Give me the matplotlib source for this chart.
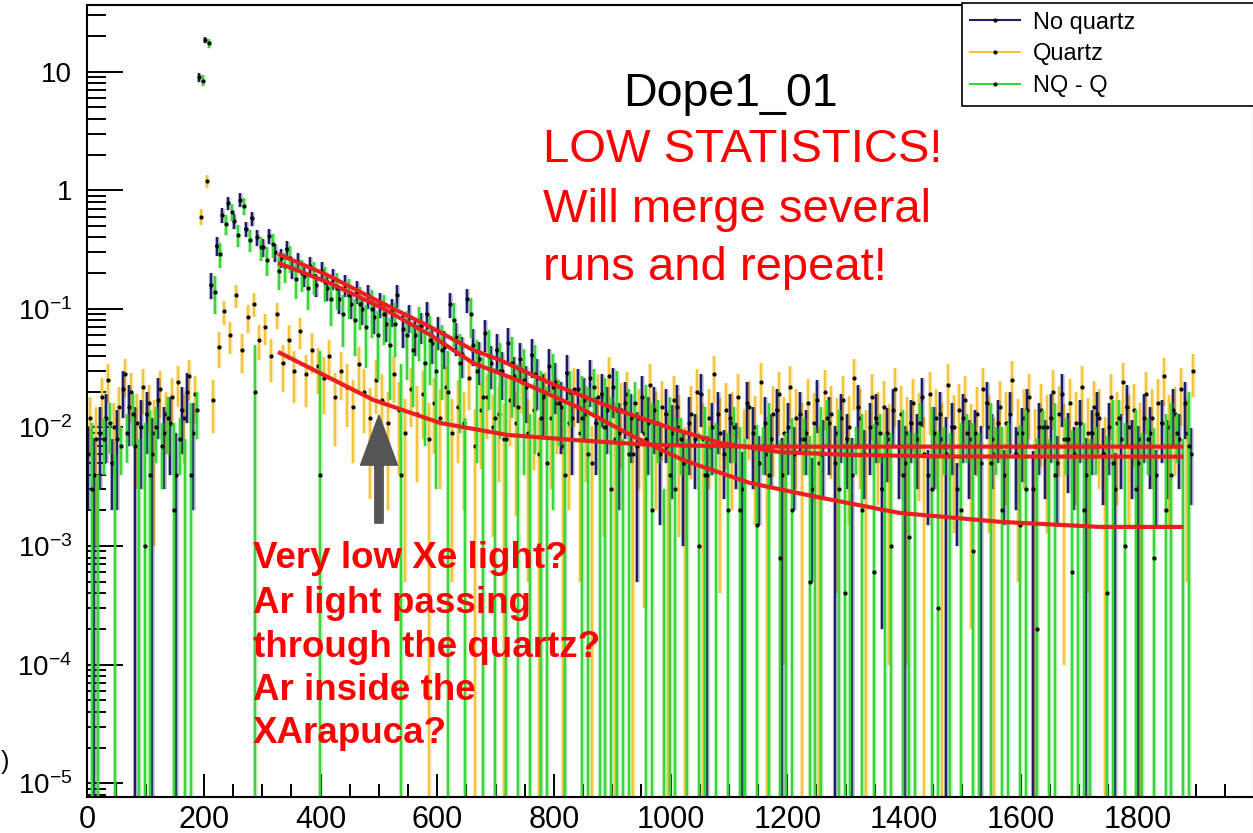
import numpy as np
import matplotlib
matplotlib.use("Agg")
import matplotlib.pyplot as plt
from matplotlib.lines import Line2D
from matplotlib.ticker import (FixedLocator, FixedFormatter, MultipleLocator,
                               LogLocator, NullFormatter)

plt.rcParams["font.family"] = ["Liberation Sans", "DejaVu Sans"]
plt.rcParams["mathtext.default"] = "regular"

# ---------------------------------------------------------------- data
BIN_WIDTH = 10                      # ns per bin
N_BINS = 190
bin_centres = BIN_WIDTH * np.arange(N_BINS) + BIN_WIDTH / 2

no_quartz = [
    0.006, 0.004, 0.009, 0.012, 0.005, 0.008, 0.021, 0.015, 0.007, 0.010,
    0.013, 0.006, 0.017, 0.009, 0.011, 0.004, 0.014, 0.020, 0.009, 9.0,
    18.5, 0.16, 0.34, 0.62, 0.78, 0.55, 0.83, 0.47, 0.58, 0.40,
    0.33, 0.41, 0.30, 0.27, 0.32, 0.22, 0.25, 0.19, 0.23, 0.16,
    0.21, 0.15, 0.18, 0.12, 0.16, 0.11, 0.14, 0.10, 0.13, 0.085,
    0.11, 0.075, 0.095, 0.13, 0.068, 0.085, 0.060, 0.072, 0.090, 0.052,
    0.065, 0.048, 0.11, 0.058, 0.042, 0.12, 0.050, 0.038, 0.062, 0.035,
    0.045, 0.030, 0.052, 0.027, 0.038, 0.022, 0.041, 0.026, 0.018, 0.033,
    0.024, 0.015, 0.029, 0.012, 0.021, 0.017, 0.026, 0.011, 0.019, 0.014,
    0.022, 0.009, 0.016, 0.012, 0.007, 0.018, 0.011, 0.014, 0.006, 0.013,
    0.009, 0.015, 0.005, 0.011, 0.008, 0.019, 0.004, 0.010, 0.013, 0.006,
    0.012, 0.007, 0.003, 0.016, 0.009, 0.005, 0.011, 0.008, 0.014, 0.004,
    0.010, 0.006, 0.013, 0.009, 0.003, 0.017, 0.007, 0.011, 0.005, 0.012,
    0.008, 0.004, 0.015, 0.006, 0.010, 0.012, 0.003, 0.009, 0.014, 0.007,
    0.005, 0.011, 0.008, 0.018, 0.004, 0.009, 0.013, 0.006, 0.010, 0.003,
    0.012, 0.007, 0.009, 0.005, 0.016, 0.008, 0.011, 0.004, 0.013, 0.006,
    0.009, 0.014, 0.003, 0.010, 0.007, 0.012, 0.005, 0.019, 0.008, 0.006,
    0.011, 0.004, 0.009, 0.013, 0.006, 0.010, 0.003, 0.008, 0.015, 0.007,
    0.005, 0.012, 0.009, 0.004, 0.011, 0.007, 0.014, 0.008, 0.016, 0.006,
]
no_quartz_err = [
    0.004, 0.004, 0.006, 0.007, 0.003, 0.006, 0.009, 0.008, 0.008, 0.007,
    0.007, 0.006, 0.009, 0.006, 0.007, 0.005, 0.008, 0.009, 0.007, 0.8,
    1.2, 0.04, 0.06, 0.09, 0.10, 0.08, 0.11, 0.07, 0.08, 0.06,
    0.055, 0.06, 0.05, 0.048, 0.052, 0.042, 0.045, 0.038, 0.042, 0.035,
    0.04, 0.034, 0.037, 0.03, 0.034, 0.028, 0.031, 0.027, 0.03, 0.024,
    0.027, 0.022, 0.025, 0.029, 0.021, 0.023, 0.02, 0.021, 0.024, 0.018,
    0.02, 0.017, 0.026, 0.018, 0.016, 0.027, 0.017, 0.015, 0.019, 0.014,
    0.016, 0.013, 0.017, 0.012, 0.014, 0.011, 0.015, 0.012, 0.01, 0.013,
    0.011, 0.009, 0.012, 0.008, 0.01, 0.009, 0.011, 0.007, 0.009, 0.008,
    0.01, 0.007, 0.008, 0.007, 0.0065, 0.009, 0.007, 0.008, 0.0045, 0.008,
    0.0065, 0.008, 0.004, 0.007, 0.005, 0.009, 0.0045, 0.006, 0.007, 0.0035,
    0.007, 0.004, 0.0032, 0.008, 0.006, 0.0035, 0.007, 0.005, 0.007, 0.0042,
    0.006, 0.004, 0.007, 0.005, 0.0025, 0.008, 0.0045, 0.007, 0.0052, 0.007,
    0.005, 0.0042, 0.008, 0.0035, 0.006, 0.007, 0.0028, 0.0055, 0.007, 0.0045,
    0.0052, 0.006, 0.005, 0.008, 0.0025, 0.006, 0.007, 0.0062, 0.006, 0.002,
    0.007, 0.0045, 0.005, 0.0053, 0.008, 0.005, 0.006, 0.0025, 0.007, 0.004,
    0.0055, 0.007, 0.0033, 0.006, 0.0045, 0.007, 0.0035, 0.009, 0.0052, 0.004,
    0.006, 0.0042, 0.005, 0.007, 0.0038, 0.006, 0.0031, 0.005, 0.008, 0.0045,
    0.0052, 0.007, 0.006, 0.0025, 0.006, 0.0045, 0.007, 0.005, 0.008, 0.0038,
]

quartz = [
    0.012, 0.008, 0.018, 0.025, 0.010, 0.015, 0.028, 0.020, 0.011, 0.022,
    0.016, 0.009, 0.021, 0.013, 0.018, 0.024, 0.012, 0.027, 0.019, 0.6,
    1.2, 0.017, 0.048, 0.095, 0.060, 0.13, 0.045, 0.085, 0.11, 0.055,
    0.07, 0.04, 0.09, 0.035, 0.055, 0.03, 0.065, 0.028, 0.045, 0.033,
    0.026, 0.04, 0.018, 0.03, 0.022, 0.015, 0.034, 0.02, 0.012, 0.025,
    0.017, 0.011, 0.028, 0.014, 0.009, 0.021, 0.013, 0.019, 0.008, 0.016,
    0.012, 0.022, 0.009, 0.015, 0.011, 0.026, 0.007, 0.014, 0.018, 0.010,
    0.013, 0.008, 0.017, 0.011, 0.024, 0.009, 0.014, 0.006, 0.019, 0.012,
    0.016, 0.007, 0.011, 0.021, 0.009, 0.013, 0.005, 0.018, 0.010, 0.027,
    0.008, 0.014, 0.019, 0.006, 0.012, 0.009, 0.023, 0.011, 0.015, 0.007,
    0.017, 0.010, 0.005, 0.013, 0.020, 0.008, 0.012, 0.028, 0.009, 0.014,
    0.011, 0.018, 0.007, 0.015, 0.010, 0.024, 0.006, 0.013, 0.019, 0.009,
    0.022, 0.012, 0.008, 0.016, 0.011, 0.005, 0.020, 0.013, 0.009, 0.017,
    0.010, 0.026, 0.012, 0.007, 0.018, 0.011, 0.015, 0.008, 0.021, 0.013,
    0.009, 0.016, 0.011, 0.006, 0.019, 0.012, 0.008, 0.023, 0.010, 0.014,
    0.017, 0.008, 0.013, 0.021, 0.010, 0.006, 0.015, 0.011, 0.025, 0.009,
    0.012, 0.018, 0.007, 0.014, 0.010, 0.020, 0.013, 0.008, 0.016, 0.011,
    0.022, 0.009, 0.015, 0.012, 0.006, 0.018, 0.011, 0.024, 0.010, 0.014,
    0.008, 0.019, 0.012, 0.016, 0.027, 0.010, 0.013, 0.021, 0.009, 0.030,
]
quartz_err = [
    0.006, 0.007, 0.008, 0.009, 0.006, 0.007, 0.010, 0.009, 0.008, 0.009,
    0.007, 0.008, 0.009, 0.007, 0.008, 0.009, 0.007, 0.010, 0.008, 0.09,
    0.15, 0.008, 0.016, 0.022, 0.018, 0.028, 0.016, 0.022, 0.025, 0.018,
    0.02, 0.016, 0.022, 0.015, 0.018, 0.014, 0.019, 0.013, 0.017, 0.014,
    0.013, 0.015, 0.011, 0.013, 0.012, 0.01, 0.014, 0.011, 0.0095, 0.012,
    0.011, 0.009, 0.012, 0.01, 0.0085, 0.011, 0.0095, 0.011, 0.008, 0.01,
    0.009, 0.011, 0.0085, 0.01, 0.009, 0.012, 0.0072, 0.0095, 0.01, 0.0088,
    0.0095, 0.008, 0.01, 0.0092, 0.011, 0.0085, 0.0096, 0.0061, 0.0105, 0.009,
    0.01, 0.0072, 0.009, 0.011, 0.0085, 0.0095, 0.0052, 0.01, 0.0088, 0.012,
    0.008, 0.0095, 0.0105, 0.0062, 0.009, 0.0087, 0.011, 0.009, 0.0098, 0.0071,
    0.01, 0.0088, 0.0051, 0.0093, 0.011, 0.008, 0.009, 0.012, 0.0086, 0.0095,
    0.009, 0.01, 0.0072, 0.0097, 0.0085, 0.011, 0.0062, 0.0092, 0.0105, 0.0089,
    0.011, 0.009, 0.0081, 0.0098, 0.0087, 0.0052, 0.0105, 0.0093, 0.0086, 0.01,
    0.0085, 0.012, 0.009, 0.0071, 0.0102, 0.0088, 0.0096, 0.0079, 0.011, 0.0092,
    0.0089, 0.0098, 0.0086, 0.0062, 0.0104, 0.009, 0.0081, 0.011, 0.0087, 0.0094,
    0.0099, 0.0078, 0.0091, 0.011, 0.0087, 0.0061, 0.0096, 0.0088, 0.0115, 0.0085,
    0.009, 0.01, 0.0072, 0.0094, 0.0087, 0.0105, 0.0092, 0.0079, 0.0098, 0.0088,
    0.011, 0.0086, 0.0095, 0.009, 0.0062, 0.0101, 0.0088, 0.0112, 0.0086, 0.0094,
    0.008, 0.0102, 0.009, 0.0097, 0.0118, 0.0086, 0.0091, 0.0108, 0.0085, 0.012,
]

nq_minus_q = [
    0.003, -0.002, 0.008, 0.011, -0.003, 0.007, 0.009, 0.013, -0.001, 0.001,
    0.004, 0.010, 0.007, 0.012, 0.002, 0.008, -0.002, 0.004, 0.014, 8.4,
    17.3, 0.14, 0.29, 0.52, 0.66, 0.42, 0.74, 0.38, 0.02, 0.33,
    0.26, 0.35, 0.21, 0.23, 0.27, 0.18, 0.20, 0.15, 0.19, 0.004,
    0.17, 0.12, 0.15, 0.09, 0.13, 0.08, 0.11, 0.07, 0.10, 0.06,
    0.09, 0.05, 0.075, 0.004, 0.06, 0.045, 0.07, 0.035, 0.055, 0.03,
    0.045, 0.02, 0.08, 0.035, -0.01, 0.09, 0.03, 0.018, 0.04, 0.012,
    0.03, 0.008, 0.035, 0.015, 0.025, -0.004, 0.028, 0.012, 0.005, 0.022,
    0.016, 0.004, 0.02, -0.012, 0.012, 0.006, 0.022, -0.002, 0.010, 0.003,
    0.014, -0.005, 0.006, 0.016, -0.012, 0.008, 0.002, 0.011, -0.009, 0.004,
    0.003, 0.008, -0.002, -0.012, 0.001, 0.004, 0.007, -0.001, -0.010, 0.002,
    0.010, 0.002, -0.003, -0.011, 0.0015, 0.007, 0.004, -0.009, 0.0008, -0.001,
    0.002, -0.010, 0.008, 0.0005, -0.002, 0.006, 0.012, -0.012, 0.003, 0.0004,
    -0.001, 0.007, 0.002, -0.010, 0.0006, 0.009, -0.003, 0.001, -0.011, 0.004,
    0.0012, -0.002, 0.011, -0.009, 0.003, 0.0003, 0.007, -0.001, -0.012, 0.002,
    0.009, 0.0009, -0.002, -0.010, 0.005, 0.007, 0.002, -0.001, -0.009, 0.0015,
    0.003, -0.011, 0.0002, 0.010, -0.002, 0.004, -0.010, 0.008, 0.0006, -0.001,
    0.002, -0.003, 0.007, -0.012, 0.0004, 0.005, 0.012, 0.001, -0.010, 0.003,
    -0.001, 0.008, 0.0008, -0.010, 0.002, 0.004, 0.009, -0.002, 0.007, -0.011,
]
nq_minus_q_err = [
    0.008, 0.006, 0.004, 0.005, 0.009, 0.003, 0.004, 0.006, 0.009, 0.010,
    0.010, 0.005, 0.004, 0.006, 0.009, 0.004, 0.010, 0.012, 0.006, 0.9,
    1.5, 0.05, 0.07, 0.10, 0.11, 0.09, 0.12, 0.08, 0.03, 0.075,
    0.07, 0.08, 0.065, 0.065, 0.07, 0.058, 0.06, 0.052, 0.058, 0.04,
    0.055, 0.048, 0.052, 0.042, 0.048, 0.04, 0.044, 0.038, 0.043, 0.035,
    0.04, 0.033, 0.036, 0.03, 0.035, 0.03, 0.034, 0.028, 0.032, 0.027,
    0.028, 0.024, 0.032, 0.026, 0.022, 0.033, 0.025, 0.021, 0.026, 0.02,
    0.022, 0.018, 0.023, 0.019, 0.021, 0.017, 0.022, 0.018, 0.017, 0.02,
    0.009, 0.013, 0.01, 0.006, 0.015, 0.016, 0.009, 0.014, 0.016, 0.015,
    0.016, 0.013, 0.015, 0.008, 0.006, 0.015, 0.014, 0.006, 0.012, 0.014,
    0.009, 0.004, 0.010, 0.006, 0.008, 0.011, 0.003, 0.012, 0.005, 0.007,
    0.005, 0.008, 0.011, 0.005, 0.009, 0.003, 0.012, 0.005, 0.007, 0.010,
    0.010, 0.006, 0.004, 0.008, 0.012, 0.009, 0.005, 0.006, 0.011, 0.007,
    0.009, 0.003, 0.011, 0.005, 0.010, 0.004, 0.012, 0.008, 0.006, 0.010,
    0.008, 0.011, 0.005, 0.005, 0.012, 0.009, 0.003, 0.010, 0.006, 0.009,
    0.004, 0.010, 0.011, 0.006, 0.011, 0.003, 0.008, 0.012, 0.005, 0.009,
    0.011, 0.006, 0.008, 0.004, 0.010, 0.012, 0.005, 0.004, 0.009, 0.011,
    0.009, 0.011, 0.003, 0.006, 0.008, 0.012, 0.005, 0.010, 0.005, 0.011,
    0.010, 0.004, 0.009, 0.005, 0.011, 0.012, 0.004, 0.010, 0.013, 0.006,
]

# exponential + constant fits, tabulated along the fitted range
fit_nq_t = [327, 411, 502, 588, 661, 707, 793, 908, 994, 1085, 1188, 1308, 1479, 1879]
fit_nq = [0.290, 0.193, 0.114, 0.0703, 0.0450, 0.0371, 0.0237, 0.0141,
          0.0101, 0.0074, 0.0062, 0.00586, 0.00569, 0.00567]
fit_diff_t = [327, 416, 502, 588, 661, 737, 850, 936, 1021, 1136, 1251, 1393,
              1565, 1736, 1879]
fit_diff = [0.244, 0.165, 0.104, 0.0603, 0.0350, 0.0251, 0.0141, 0.0084,
            0.00532, 0.0034, 0.00259, 0.0019, 0.0016, 0.00145, 0.00145]
fit_q_t = [327, 490, 605, 720, 833, 965, 1136, 1879]
fit_q = [0.0433, 0.0171, 0.0109, 0.00865, 0.00785, 0.00713, 0.00689, 0.00689]

series_labels = ["No quartz", "Quartz", "NQ - Q"]
x_tick_values = [0, 200, 400, 600, 800, 1000, 1200, 1400, 1600, 1800]
y_tick_values = [1e-5, 1e-4, 1e-3, 1e-2, 1e-1, 1, 10]
y_tick_labels = ["$10^{-5}$", "$10^{-4}$", "$10^{-3}$", "$10^{-2}$",
                 "$10^{-1}$", "1", "10"]

# ---------------------------------------------------------------- style
NAVY = "#1d1d6b"
GOLD = "#f2c53a"
GREEN = "#38d638"
FIT_RED = "#e82020"

W, H = 1253, 833
fig = plt.figure(figsize=(W / 100, H / 100), dpi=100)
ax = fig.add_axes([87.3 / W, 1 - 796.7 / H, (1254 - 87.3) / W, (796.7 - 4.7) / H])
ax.set_yscale("log", nonpositive="clip")
ax.set_xlim(0, 2000)
ax.set_ylim(7.7e-6, 36.7)


def draw_hist(values, errors, colour, shift, z):
    # the three histograms share bins; each is nudged a little inside the bin
    # so that its error bars stay visible next to the others
    x = bin_centres + shift
    ax.errorbar(x, values, yerr=errors, fmt="none", ecolor=colour,
                elinewidth=3.6, alpha=0.22, capsize=0, zorder=z)
    ax.errorbar(x, values, yerr=errors, xerr=2.5, fmt="o", ms=2.0,
                mfc="black", mec="black", ecolor=colour, elinewidth=1.75,
                capsize=0, zorder=z + 0.1)


draw_hist(quartz, quartz_err, GOLD, 0.0, 2)
draw_hist(no_quartz, no_quartz_err, NAVY, -3.3, 2.2)
draw_hist(nq_minus_q, nq_minus_q_err, GREEN, 3.3, 2.4)

for t, f in ((fit_q_t, fit_q), (fit_diff_t, fit_diff), (fit_nq_t, fit_nq)):
    ax.plot(t, f, color=FIT_RED, lw=3.0, zorder=3, solid_capstyle="butt")

# axes in the ROOT look: inside ticks, left and bottom only
for s in ax.spines.values():
    s.set_linewidth(1.5)
ax.xaxis.set_major_locator(FixedLocator(x_tick_values))
ax.xaxis.set_major_formatter(FixedFormatter([str(v) for v in x_tick_values]))
ax.xaxis.set_minor_locator(MultipleLocator(50))
ax.yaxis.set_major_locator(FixedLocator(y_tick_values))
ax.yaxis.set_major_formatter(FixedFormatter(y_tick_labels))
ax.yaxis.set_minor_locator(LogLocator(base=10, subs=np.arange(2, 10), numticks=40))
ax.yaxis.set_minor_formatter(NullFormatter())
ax.tick_params(axis="x", which="major", direction="in", length=16.5, width=1.4,
               labelsize=22, pad=6)
ax.tick_params(axis="x", which="minor", direction="in", length=9.4, width=1.4)
ax.tick_params(axis="y", which="major", direction="in", length=26, width=1.4,
               labelsize=20, pad=11)
ax.tick_params(axis="y", which="minor", direction="in", length=13.7, width=1.4)

handles = [
    Line2D([], [], color=NAVY, lw=1.5, marker="o", ms=2, mfc="k", mec="k"),
    Line2D([], [], color=GOLD, lw=1.5, marker="o", ms=2, mfc="k", mec="k"),
    Line2D([], [], color=GREEN, lw=1.5, marker="o", ms=2, mfc="k", mec="k"),
]
leg = ax.legend(handles, series_labels, loc="upper left",
                bbox_to_anchor=(962 / W, 1 - 3.3 / H, (1320 - 962) / W, 0),
                bbox_transform=fig.transFigure, mode="expand", borderaxespad=0,
                fontsize=17, handlelength=2.1, handletextpad=0.55, borderpad=0.35,
                labelspacing=0.42, fancybox=False, framealpha=1, edgecolor="black")
leg.get_frame().set_linewidth(1.2)
leg.set_zorder(10)

# run name and comments
fig.text(623 / W, 1 - 106 / H, "Dope1_01", fontsize=33.5, color="black",
         ha="left", va="baseline")
for line, base in (("LOW STATISTICS!", 162.3), ("Will merge several", 222.3),
                   ("runs and repeat!", 280.5)):
    fig.text(542.7 / W, 1 - base / H, line, fontsize=34, color="#ff0000",
             ha="left", va="baseline")
for line, base in (("Very low Xe light?", 568), ("Ar light passing", 613),
                   ("through the quartz?", 657), ("Ar inside the", 700),
                   ("XArapuca?", 743)):
    fig.text(252.7 / W, 1 - base / H, line, fontsize=26.5, color="#ff0000",
             fontweight="bold", ha="left", va="baseline", zorder=6)

ax.annotate("", xy=(500, 0.0127), xytext=(500, 0.00156),
            arrowprops=dict(arrowstyle="simple,head_length=3.6,head_width=2.66,tail_width=0.6",
                            color="#555555", shrinkA=0, shrinkB=0, mutation_scale=10),
            zorder=6)

fig.text(1 / W, 1 - 762 / H, ")", fontsize=18, ha="left", va="center")

fig.savefig("out.png", dpi=100, facecolor="white")
